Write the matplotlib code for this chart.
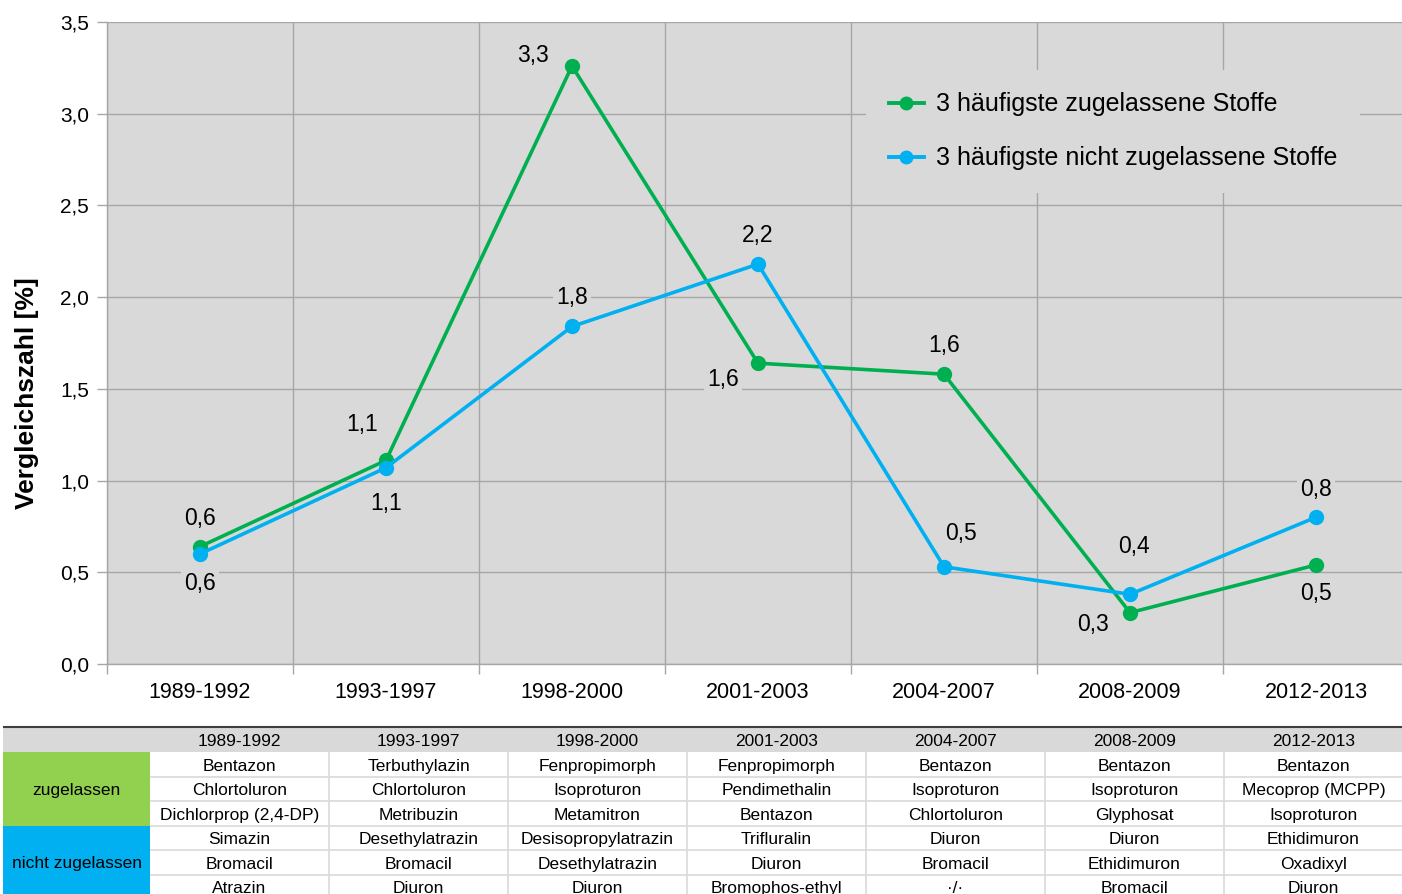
import matplotlib
matplotlib.use('Agg')
import matplotlib.pyplot as plt
from matplotlib.lines import Line2D
from matplotlib.patches import Rectangle

plt.rcParams['font.family'] = ['Liberation Sans', 'DejaVu Sans']

# Daten
perioden = ['1989-1992', '1993-1997', '1998-2000', '2001-2003', '2004-2007', '2008-2009', '2012-2013']
zugelassen = [0.64, 1.11, 3.26, 1.64, 1.58, 0.28, 0.54]
nicht_zugelassen = [0.60, 1.07, 1.84, 2.18, 0.53, 0.38, 0.80]

# Tabelle: je Periode die 3 häufigsten Stoffe
stoffe_zugelassen = [
    ['Bentazon', 'Chlortoluron', 'Dichlorprop (2,4-DP)'],
    ['Terbuthylazin', 'Chlortoluron', 'Metribuzin'],
    ['Fenpropimorph', 'Isoproturon', 'Metamitron'],
    ['Fenpropimorph', 'Pendimethalin', 'Bentazon'],
    ['Bentazon', 'Isoproturon', 'Chlortoluron'],
    ['Bentazon', 'Isoproturon', 'Glyphosat'],
    ['Bentazon', 'Mecoprop (MCPP)', 'Isoproturon'],
]
stoffe_nicht = [
    ['Simazin', 'Bromacil', 'Atrazin'],
    ['Desethylatrazin', 'Bromacil', 'Diuron'],
    ['Desisopropylatrazin', 'Desethylatrazin', 'Diuron'],
    ['Trifluralin', 'Diuron', 'Bromophos-ethyl'],
    ['Diuron', 'Bromacil', '·/·'],
    ['Diuron', 'Ethidimuron', 'Bromacil'],
    ['Ethidimuron', 'Oxadixyl', 'Diuron'],
]

GREEN = '#00b050'
BLUE = '#00b0f0'
BG = '#d9d9d9'
GRID = '#a6a6a6'

# Lage der Wertebeschriftungen (Pixel-Versatz zum Punkt)
off_gruen = [(0, 28), (-24, 36), (-39, 11), (-35, -16), (0, 29), (-37, -12), (0, -29)]
off_blau = [(0, -30), (0, -36), (0, 29), (0, 29), (17, 33), (4, 48), (0, 28)]

W, H = 1402, 894
fig = plt.figure(figsize=(W / 100, H / 100), dpi=100)

ax = fig.add_axes([107 / W, 1 - 664 / H, 1302 / W, 642 / H])
ax.set_facecolor(BG)
x = list(range(len(perioden)))

ax.plot(x, zugelassen, color=GREEN, lw=2.6, marker='o', ms=10, zorder=4)
ax.plot(x, nicht_zugelassen, color=BLUE, lw=2.6, marker='o', ms=10, zorder=4)

def fmt(v):
    return f'{v:.1f}'.replace('.', ',')

for vals, offs in ((zugelassen, off_gruen), (nicht_zugelassen, off_blau)):
    for xi, v, o in zip(x, vals, offs):
        ax.annotate(fmt(v), (xi, v), xytext=o, textcoords='offset pixels',
                    ha='center', va='center', fontsize=16.5, zorder=3,
                    bbox=dict(boxstyle='square,pad=0.15', fc=BG, ec='none'))

ax.set_xlim(-0.5, len(perioden) - 0.5)
ax.set_ylim(0, 3.5)
ax.set_yticks([i * 0.5 for i in range(8)])
ax.set_yticklabels([fmt(i * 0.5) for i in range(8)], fontsize=15)
ax.set_xticks(x)
ax.set_xticklabels(perioden, fontsize=15.5)
ax.set_xticks([i - 0.5 for i in range(len(perioden) + 1)], minor=True)
ax.tick_params(axis='x', which='major', length=0, pad=13)
ax.tick_params(axis='x', which='minor', length=7, color=GRID, width=1)
ax.tick_params(axis='y', length=7, color=GRID, width=1, pad=6)
ax.grid(axis='y', which='major', color=GRID, lw=1, zorder=0)
ax.grid(axis='x', which='minor', color=GRID, lw=1, zorder=0)
ax.set_axisbelow(True)
for s in ('top', 'right'):
    ax.spines[s].set_visible(False)
for s in ('left', 'bottom'):
    ax.spines[s].set_color(GRID)
    ax.spines[s].set_linewidth(1)

handles = [
    Line2D([], [], color=GREEN, lw=2.8, marker='o', ms=9),
    Line2D([], [], color=BLUE, lw=2.8, marker='o', ms=9),
]
leg = ax.legend(handles, ['3 häufigste zugelassene Stoffe', '3 häufigste nicht zugelassene Stoffe'],
                loc='upper left', bbox_to_anchor=(866 / W, 1 - 70 / H), bbox_transform=fig.transFigure,
                fontsize=18, frameon=True, fancybox=False, handlelength=1.4, handletextpad=0.5,
                labelspacing=1.2, borderpad=0.9, borderaxespad=0)
leg.get_frame().set_facecolor(BG)
leg.get_frame().set_edgecolor('none')
leg.get_frame().set_alpha(1)
leg.set_zorder(5)

fig.text(27 / W, 1 - 393 / H, 'Vergleichszahl [%]', rotation=90, ha='center', va='center',
         fontsize=19, fontweight='bold')

# Tabelle unter dem Diagramm (Pixelkoordinaten)
tx = fig.add_axes([0, 0, 1, 172 / H])
tx.set_xlim(0, W)
tx.set_ylim(894, 722)
tx.axis('off')

col0 = 150
cw = 179
top = 728
rh = 24.5
tab_font = dict(family=['Liberation Sans', 'DejaVu Sans'], fontsize=12.5)

tx.add_patch(Rectangle((3, top), W - 3, rh, fc=BG, ec='none'))
tx.hlines(top - 0.5, 3, W, color='#404040', lw=1.5)
tx.add_patch(Rectangle((3, top + rh), col0 - 3, 3 * rh, fc='#92d050', ec='none'))
tx.add_patch(Rectangle((3, top + 4 * rh), col0 - 3, 3 * rh, fc=BLUE, ec='none'))
tx.text((3 + col0) / 2, top + 2.5 * rh + 1, 'zugelassen', ha='center', va='center', **tab_font)
tx.text((3 + col0) / 2, top + 5.5 * rh + 1, 'nicht zugelassen', ha='center', va='center', **tab_font)

for r in range(1, 7):
    tx.hlines(top + (r + 1) * rh, col0, W, color=BG, lw=1.2)
for c in range(1, len(perioden)):
    tx.vlines(col0 + c * cw, top + rh, H, color=BG, lw=1.2)

for c, p in enumerate(perioden):
    cx = col0 + (c + 0.5) * cw
    tx.text(cx, top + rh / 2 + 1, p, ha='center', va='center', **tab_font)
    for r, s in enumerate(stoffe_zugelassen[c] + stoffe_nicht[c]):
        tx.text(cx, top + (r + 1.5) * rh + 1.5, s, ha='center', va='center', **tab_font)

fig.savefig('out.png', dpi=100)
